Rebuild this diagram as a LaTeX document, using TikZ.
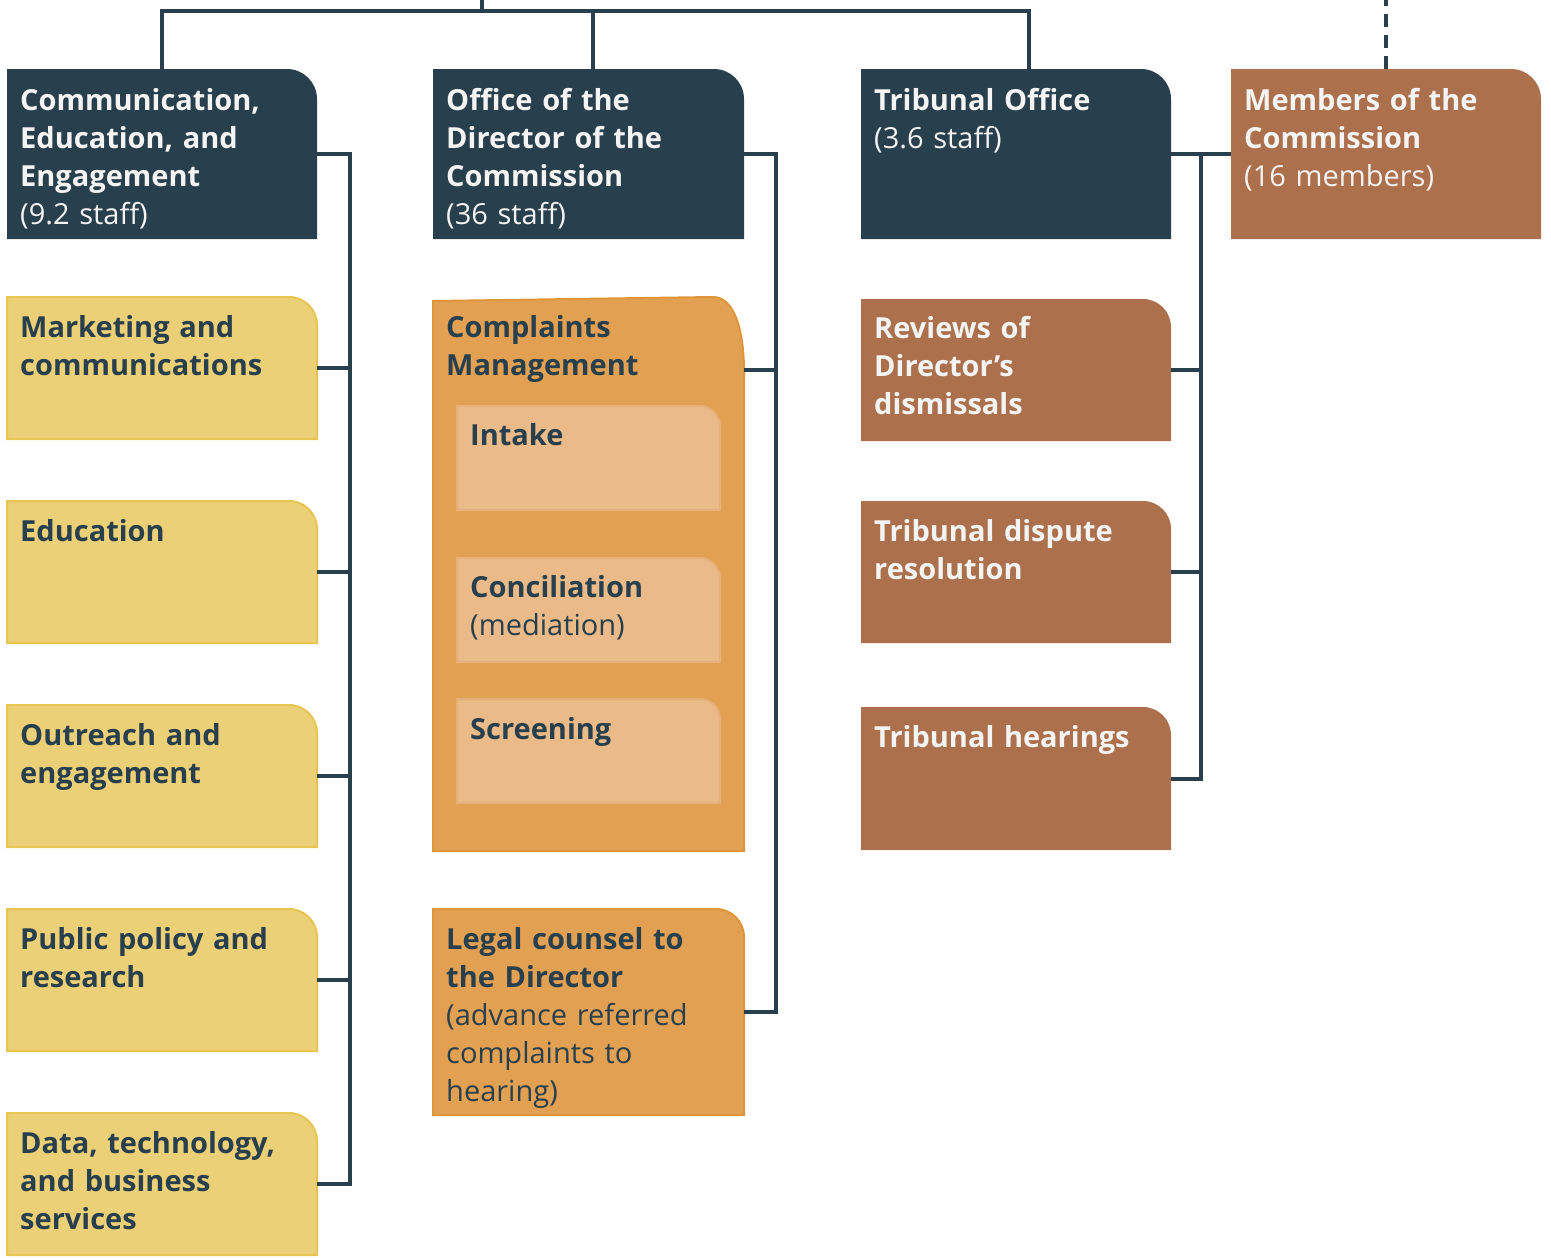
\documentclass[tikz,border=0pt]{standalone}
\usepackage{fontspec}
\setmainfont{Open Sans}
\usetikzlibrary{calc,backgrounds}
\definecolor{navy}{HTML}{283F4E}
\definecolor{ylw}{HTML}{ECD077}
\definecolor{ylwb}{HTML}{E8C452}
\definecolor{orng}{HTML}{E2A052}
\definecolor{orngb}{HTML}{DF963A}
\definecolor{peach}{HTML}{EABB88}
\definecolor{peachb}{HTML}{E6B07A}
\definecolor{brwn}{HTML}{AC714C}
\definecolor{wtxt}{HTML}{F4F4F4}
\newcommand\tabbox[3]{\path[#2] (#1.south west) -- (#1.north west) -- ([xshift=-#3pt]#1.north east) arc[start angle=90,end angle=0,radius=#3pt] -- (#1.south east) -- cycle;}
\begin{document}
\begin{tikzpicture}[x=1pt,y=-1pt,
  frame/.style={minimum width=310, minimum height=142, inner sep=0, outer sep=0, anchor=north west},
  lbl/.style={anchor=base west, inner sep=0, text width=300pt, align=left, font=\fontsize{29}{38}\selectfont},
  dk/.style={lbl, text=navy},
  wt/.style={lbl, text=wtxt},
  conn/.style={draw=navy, line width=4pt},
  fnavy/.style={fill=navy},
  fylw/.style={fill=ylw, draw=ylwb, line width=2pt},
  forng/.style={fill=orng, draw=orngb, line width=2pt},
  fpeach/.style={fill=peach, draw=peachb, line width=2pt},
  fbrwn/.style={fill=brwn}]
\useasboundingbox (0,0) rectangle (1551,1258);
% frames
\node[frame, minimum height=170] (cee) at (7,69) {};
\node[frame] (mkt) at (7,297) {};
\node[frame] (edu) at (7,501) {};
\node[frame] (out) at (7,705) {};
\node[frame] (pub) at (7,909) {};
\node[frame] (data) at (7,1113) {};
\node[frame, minimum height=170, minimum width=311] (off) at (433,69) {};
\node[frame, minimum height=554, minimum width=311] (cm) at (433,297) {};
\node[frame, minimum height=104, minimum width=263] (intake) at (457,406) {};
\node[frame, minimum height=104, minimum width=263] (concil) at (457,558) {};
\node[frame, minimum height=104, minimum width=263] (screen) at (457,699) {};
\node[frame, minimum height=206, minimum width=311] (legal) at (433,909) {};
\node[frame, minimum height=170] (tri) at (861,69) {};
\node[frame] (rev) at (861,299) {};
\node[frame] (disp) at (861,501) {};
\node[frame, minimum height=143] (hear) at (861,707) {};
\node[frame, minimum height=170] (mem) at (1231,69) {};
% shapes
\begin{pgfonlayer}{background}
\tabbox{cee}{fnavy}{30}
\tabbox{off}{fnavy}{30}
\tabbox{tri}{fnavy}{30}
\tabbox{mem}{fbrwn}{30}
\tabbox{mkt}{fylw}{28}
\tabbox{edu}{fylw}{28}
\tabbox{out}{fylw}{28}
\tabbox{pub}{fylw}{28}
\tabbox{data}{fylw}{28}
\path[forng] (cm.south west) -- ($(cm.north west)+(0,4)$) -- ($(cm.north east)+(-31,0)$) .. controls ($(cm.north east)+(-10,0)$) and ($(cm.north east)+(0,32)$) .. ($(cm.north east)+(0,75)$) -- (cm.south east) -- cycle;
\tabbox{intake}{fpeach}{20}
\tabbox{concil}{fpeach}{20}
\tabbox{screen}{fpeach}{20}
\tabbox{legal}{forng}{28}
\tabbox{rev}{fbrwn}{28}
\tabbox{disp}{fbrwn}{28}
\tabbox{hear}{fbrwn}{28}
\end{pgfonlayer}
% labels
\node[wt] (cee-t) at ($(cee.north west)+(13,41)$) {{\bfseries Communication,\\Education, and\\Engagement}\\(9.2 staff)};
\node[dk] (mkt-t) at ($(mkt.north west)+(13,40)$) {\bfseries Marketing and\\communications};
\node[dk] (edu-t) at ($(edu.north west)+(13,40)$) {\bfseries Education};
\node[dk] (out-t) at ($(out.north west)+(13,40)$) {\bfseries Outreach and\\engagement};
\node[dk] (pub-t) at ($(pub.north west)+(13,40)$) {\bfseries Public policy and\\research};
\node[dk] (data-t) at ($(data.north west)+(13,40)$) {\bfseries Data, technology,\\and business\\services};
\node[wt] (off-t) at ($(off.north west)+(13,41)$) {{\bfseries Office of the\\Director of the\\Commission}\\(36 staff)};
\node[dk] (cm-t) at ($(cm.north west)+(13,40)$) {\bfseries Complaints\\Management};
\node[dk] (intake-t) at ($(intake.north west)+(13,39)$) {\bfseries Intake};
\node[dk] (concil-t) at ($(concil.north west)+(13,39)$) {{\bfseries Conciliation}\\(mediation)};
\node[dk] (screen-t) at ($(screen.north west)+(13,40)$) {\bfseries Screening};
\node[dk] (legal-t) at ($(legal.north west)+(13,40)$) {{\bfseries Legal counsel to\\the Director}\\(advance referred\\complaints to\\hearing)};
\node[wt] (tri-t) at ($(tri.north west)+(13,41)$) {{\bfseries Tribunal Office}\\(3.6 staff)};
\node[wt] (rev-t) at ($(rev.north west)+(13,39)$) {\bfseries Reviews of\\Director’s\\dismissals};
\node[wt] (disp-t) at ($(disp.north west)+(13,40)$) {\bfseries Tribunal dispute\\resolution};
\node[wt] (hear-t) at ($(hear.north west)+(13,40)$) {\bfseries Tribunal hearings};
\node[wt] (mem-t) at ($(mem.north west)+(13,41)$) {{\bfseries Members of the\\Commission}\\(16 members)};
% connectors
\coordinate (busA) at (350,0);
\coordinate (busB) at (776,0);
\coordinate (busC) at (1201,0);
\coordinate (topbar) at (0,11);
\coordinate (root) at (482,0);
\coordinate (memtop) at (1386,0);
\coordinate (offdrop) at ($(off.north west)+(160,0)$);
\coordinate (tridrop) at ($(tri.north west)+(168,0)$);
\coordinate (cmport) at ($(cm.north east)+(0,73)$);
\draw[conn] (root) -- (root |- topbar);
\draw[conn] (cee.north) -- (cee.north |- topbar) -- (tridrop |- topbar) -- (tridrop);
\draw[conn] (offdrop |- topbar) -- (offdrop);
\draw[conn, dash pattern=on 13pt off 8pt] ($(mem.north west)+(155,0)$) -- (memtop);
\draw[conn] (cee.east) -- (cee.east -| busA) -- (data.east -| busA) -- (data.east);
\foreach \n in {mkt,edu,out,pub} \draw[conn] (\n.east) -- (\n.east -| busA);
\draw[conn] (off.east) -- (off.east -| busB) -- (legal.east -| busB) -- (legal.east);
\draw[conn] (cmport) -- (cmport -| busB);
\draw[conn] (tri.east) -- (mem.west);
\draw[conn] (tri.east -| busC) -- (hear.east -| busC) -- (hear.east);
\foreach \n in {rev,disp} \draw[conn] (\n.east) -- (\n.east -| busC);
\end{tikzpicture}
\end{document}
